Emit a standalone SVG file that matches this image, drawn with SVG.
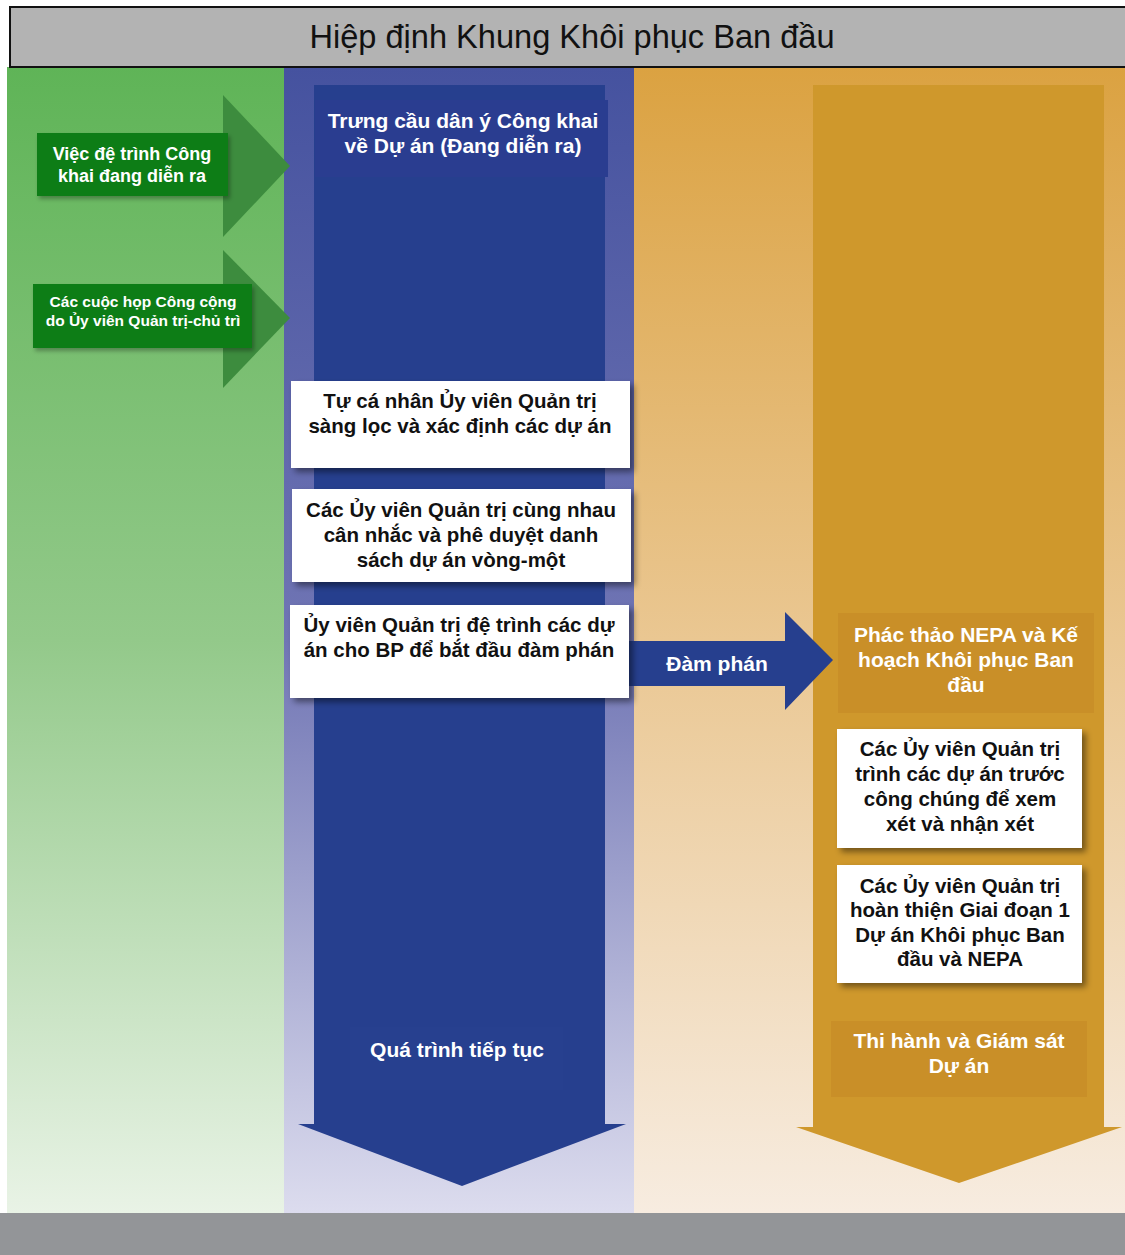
<svg xmlns="http://www.w3.org/2000/svg" width="1125" height="1255" viewBox="0 0 1125 1255">
<defs>
<linearGradient id="gGreen" x1="0" y1="0" x2="0" y2="1">
<stop offset="0" stop-color="#5fb457"/><stop offset="0.5" stop-color="#93c98a"/><stop offset="1" stop-color="#e9f3e6"/>
</linearGradient>
<linearGradient id="gBlue" x1="0" y1="0" x2="0" y2="1">
<stop offset="0" stop-color="#45529f"/><stop offset="0.5" stop-color="#7075b4"/><stop offset="1" stop-color="#dcdcee"/>
</linearGradient>
<linearGradient id="gOrange" x1="0" y1="0" x2="0" y2="1">
<stop offset="0" stop-color="#dba241"/><stop offset="0.5" stop-color="#eac792"/><stop offset="1" stop-color="#f7ece0"/>
</linearGradient>
<filter id="shadow" x="-10%" y="-10%" width="125%" height="130%">
<feDropShadow dx="4" dy="4" stdDeviation="3" flood-color="#000" flood-opacity="0.45"/>
</filter>
<filter id="shadowSoft" x="-10%" y="-10%" width="125%" height="130%">
<feDropShadow dx="2" dy="3" stdDeviation="2" flood-color="#000" flood-opacity="0.3"/>
</filter>
</defs>
<style>
text { font-family: "Liberation Sans", Arial, sans-serif; font-weight: bold; text-anchor: middle; }
.w { fill: #ffffff; font-size: 21px; }
.k { fill: #111111; font-size: 20.5px; }
.g1 { fill: #ffffff; font-size: 18px; }
.g2 { fill: #ffffff; font-size: 15.5px; }
.box { fill: #ffffff; filter: url(#shadow); }
.gbox { fill: #0b7d18; filter: url(#shadowSoft); }
.garrow { fill: #3d8c3e; }
.bluefill { fill: #263f8e; }
.orfill { fill: #cf982c; }
</style>

<!-- backgrounds -->
<rect x="7" y="67" width="277" height="1146" fill="url(#gGreen)"/>
<rect x="284" y="67" width="350" height="1146" fill="url(#gBlue)"/>
<rect x="634" y="67" width="491" height="1146" fill="url(#gOrange)"/>
<rect x="0" y="1213" width="1125" height="42" fill="#939598"/>

<!-- title -->
<g id="title">
<rect x="10" y="7" width="1120" height="60" fill="#b3b3b3" stroke="#111" stroke-width="2"/>
<text x="572" y="48" textLength="525" lengthAdjust="spacingAndGlyphs" style="font-weight:normal;font-size:34px;fill:#111">Hiệp định Khung Khôi phục Ban đầu</text>
</g>

<!-- big column arrows -->
<g id="blue-column-arrow">
<path class="bluefill" d="M314,85 H605 V1124 H626 L462,1186 L298,1124 H314 Z"/>
<rect x="315" y="100" width="293" height="77" fill="#2a3d90"/>
<text class="w" x="463" y="128">Trưng cầu dân ý Công khai</text>
<text class="w" x="463" y="153">về Dự án (Đang diễn ra)</text>
<rect x="350" y="1027" width="213" height="63" fill="#27408f"/>
<text class="w" x="457" y="1057">Quá trình tiếp tục</text>
</g>

<g id="orange-column-arrow">
<path class="orfill" d="M813,85 H1104 V1127 H1122 L959,1183 L796,1127 H813 Z"/>
</g>

<!-- connectors -->
<g id="connectors">
<polygon class="garrow" points="223,95 290,166 223,237"/>
<polygon class="garrow" points="223,250 290,318 223,388"/>
<path fill="#263f8e" d="M628,641 H785 V612 L833,660 L785,710 V686 H628 Z"/>
<text class="w" x="717" y="671">Đàm phán</text>
</g>

<!-- green nodes -->
<g id="node-public-submission">
<rect class="gbox" x="37" y="133" width="191" height="63"/>
<text class="g1" x="132" y="160">Việc đệ trình Công</text>
<text class="g1" x="132" y="182">khai đang diễn ra</text>
</g>
<g id="node-public-meetings">
<rect class="gbox" x="33" y="284" width="219" height="64"/>
<text class="g2" x="143" y="307">Các cuộc họp Công cộng</text>
<text class="g2" x="143" y="326">do Ủy viên Quản trị-chủ trì</text>
</g>

<!-- white nodes in blue column -->
<g id="node-screen">
<rect class="box" x="291" y="381" width="339" height="87"/>
<text class="k" x="460" y="408">Tự cá nhân Ủy viên Quản trị</text>
<text class="k" x="460" y="433">sàng lọc và xác định các dự án</text>
</g>
<g id="node-approve">
<rect class="box" x="292" y="489" width="339" height="93"/>
<text class="k" x="461" y="517">Các Ủy viên Quản trị cùng nhau</text>
<text class="k" x="461" y="542">cân nhắc và phê duyệt danh</text>
<text class="k" x="461" y="567">sách dự án vòng-một</text>
</g>
<g id="node-submit-bp">
<rect class="box" x="290" y="605" width="339" height="93"/>
<text class="k" x="459" y="632">Ủy viên Quản trị đệ trình các dự</text>
<text class="k" x="459" y="657">án cho BP để bắt đầu đàm phán</text>
</g>

<!-- orange column nodes -->
<g id="node-draft-nepa">
<rect x="838" y="613" width="256" height="100" fill="#c98f28"/>
<text class="w" x="966" y="642">Phác thảo NEPA và Kế</text>
<text class="w" x="966" y="667">hoạch Khôi phục Ban</text>
<text class="w" x="966" y="692">đầu</text>
</g>
<g id="node-public-review">
<rect class="box" x="837" y="729" width="245" height="119"/>
<text class="k" x="960" y="756">Các Ủy viên Quản trị</text>
<text class="k" x="960" y="781">trình các dự án trước</text>
<text class="k" x="960" y="806">công chúng để xem</text>
<text class="k" x="960" y="831">xét và nhận xét</text>
</g>
<g id="node-finalize">
<rect class="box" x="837" y="865" width="245" height="118"/>
<text class="k" x="960" y="893">Các Ủy viên Quản trị</text>
<text class="k" x="960" y="917">hoàn thiện Giai đoạn 1</text>
<text class="k" x="960" y="942">Dự án Khôi phục Ban</text>
<text class="k" x="960" y="966">đầu và NEPA</text>
</g>
<g id="node-implement">
<rect x="831" y="1021" width="256" height="76" fill="#c98f28"/>
<text class="w" x="959" y="1048">Thi hành và Giám sát</text>
<text class="w" x="959" y="1073">Dự án</text>
</g>
</svg>
